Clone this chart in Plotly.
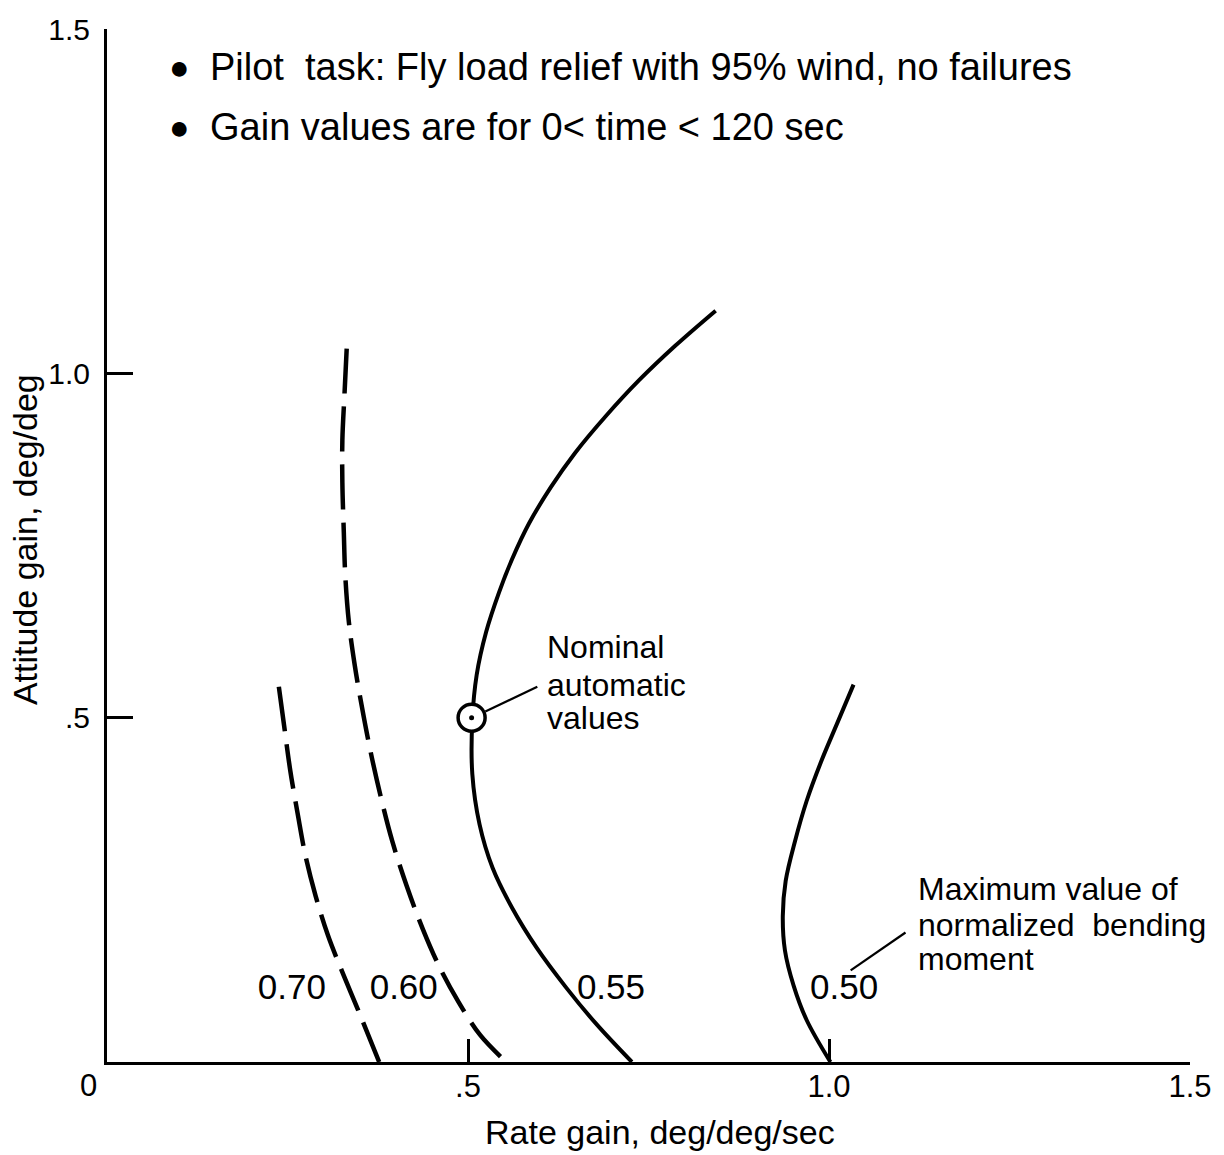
import plotly.graph_objects as go

# Contours of maximum normalized bending moment (rate gain, attitude gain)
rate_055 = [0.843, 0.787, 0.737, 0.691, 0.648, 0.615, 0.585, 0.561, 0.543, 0.525, 0.512, 0.506,
            0.506, 0.516, 0.534, 0.561, 0.595, 0.636, 0.677, 0.727]
att_055 = [1.091, 1.040, 0.990, 0.938, 0.884, 0.835, 0.783, 0.730, 0.682, 0.624, 0.562, 0.497,
           0.418, 0.345, 0.282, 0.224, 0.166, 0.108, 0.056, 0.0]

rate_050 = [1.034, 1.011, 0.989, 0.969, 0.953, 0.940, 0.936, 0.939, 0.951, 0.969, 1.002]
att_050 = [0.548, 0.491, 0.436, 0.379, 0.321, 0.263, 0.212, 0.162, 0.111, 0.061, 0.0]

rate_060 = [0.332, 0.329, 0.326, 0.326, 0.328, 0.330, 0.335, 0.343, 0.353, 0.365, 0.379, 0.395,
            0.415, 0.437, 0.460, 0.487, 0.517, 0.553]
att_060 = [1.036, 0.971, 0.903, 0.841, 0.769, 0.707, 0.639, 0.577, 0.516, 0.451, 0.386, 0.321,
           0.256, 0.194, 0.139, 0.087, 0.039, 0.0]

rate_070 = [0.238, 0.246, 0.254, 0.264, 0.275, 0.289, 0.306, 0.325, 0.348, 0.377]
att_070 = [0.545, 0.483, 0.422, 0.361, 0.299, 0.241, 0.184, 0.133, 0.075, 0.0]

# Nominal automatic gains
nominal_rate = [0.505]
nominal_att = [0.5]

# Contour labels
contour_labels = ["0.70", "0.60", "0.55", "0.50"]
contour_label_x = [0.256, 0.411, 0.698, 1.021]
contour_label_y = [0.104, 0.104, 0.104, 0.104]

# Leader lines for notes
nominal_leader_x = [0.524, 0.596]
nominal_leader_y = [0.509, 0.545]
moment_leader_x = [1.030, 1.106]
moment_leader_y = [0.133, 0.188]

# Notes (one entry per printed line)
header_lines = ["Pilot  task: Fly load relief with 95% wind, no failures",
                "Gain values are for 0< time < 120 sec"]
header_y = [1.445, 1.358]
nominal_lines = ["Nominal", "automatic", "values"]
nominal_lines_y = [0.603, 0.548, 0.499]
moment_lines = ["Maximum value of", "normalized  bending", "moment"]
moment_lines_y = [0.251, 0.199, 0.150]

x_tickvals = [0.5, 1.0, 1.5]
x_ticktext = [".5", "1.0", "1.5"]
y_tickvals = [0.5, 1.0, 1.5]
y_ticktext = [".5", "1.0", "1.5"]

FONT = "Liberation Sans"
INK = "black"

fig = go.Figure()

solid = dict(color=INK, width=4)
dashed = dict(color=INK, width=4.5, dash="45px,13px")

fig.add_trace(go.Scatter(x=rate_070, y=att_070, mode="lines", line=dashed, line_shape="spline"))
fig.add_trace(go.Scatter(x=rate_060, y=att_060, mode="lines", line=dashed, line_shape="spline"))
fig.add_trace(go.Scatter(x=rate_055, y=att_055, mode="lines", line=solid, line_shape="spline"))
fig.add_trace(go.Scatter(x=rate_050, y=att_050, mode="lines", line=solid, line_shape="spline"))

# Leader lines
fig.add_trace(go.Scatter(x=nominal_leader_x, y=nominal_leader_y, mode="lines",
                         line=dict(color=INK, width=2.2)))
fig.add_trace(go.Scatter(x=moment_leader_x, y=moment_leader_y, mode="lines",
                         line=dict(color=INK, width=2.2)))

# Nominal point: open circle with centre dot
fig.add_trace(go.Scatter(x=nominal_rate, y=nominal_att, mode="markers",
                         marker=dict(symbol="circle", size=27, color="white",
                                     line=dict(color=INK, width=3.5))))
fig.add_trace(go.Scatter(x=nominal_rate, y=nominal_att, mode="markers",
                         marker=dict(symbol="circle", size=5, color=INK)))

# Contour value labels
fig.add_trace(go.Scatter(x=contour_label_x, y=contour_label_y, mode="text",
                         text=contour_labels, textposition="middle center",
                         textfont=dict(family=FONT, size=35, color=INK)))


def note(x, y, text, size):
    fig.add_annotation(xref="x", yref="y", x=x, y=y, text=text, xanchor="left",
                       yanchor="middle", align="left", showarrow=False,
                       font=dict(family=FONT, size=size, color=INK))


for txt, yy in zip(header_lines, header_y):
    fig.add_annotation(xref="x", yref="y", x=0.101, y=yy, text="●", xanchor="center",
                       yanchor="middle", showarrow=False,
                       font=dict(family=FONT, size=34, color=INK))
    note(0.140, yy, txt, 38)
for txt, yy in zip(nominal_lines, nominal_lines_y):
    note(0.606, yy, txt, 32)
for txt, yy in zip(moment_lines, moment_lines_y):
    note(1.120, yy, txt, 32)

# Origin label and axis titles
fig.add_annotation(xref="x", yref="y", x=0, y=0, text="0", showarrow=False,
                   xshift=-19, yshift=-23, font=dict(family=FONT, size=31, color=INK))
fig.add_annotation(xref="paper", yref="paper", x=0.511, y=-0.068, text="Rate gain, deg/deg/sec",
                   showarrow=False, xanchor="center", yanchor="middle",
                   font=dict(family=FONT, size=34, color=INK))
fig.add_annotation(xref="paper", yref="paper", x=-0.075, y=0.506, text="Attitude gain, deg/deg",
                   showarrow=False, xanchor="center", yanchor="middle", textangle=-90,
                   font=dict(family=FONT, size=34, color=INK))

fig.update_layout(
    width=1224, height=1155,
    margin=dict(l=107, r=32, t=24, b=93),
    paper_bgcolor="white", plot_bgcolor="white",
    showlegend=False,
    font=dict(family=FONT, size=31, color=INK),
)
fig.update_xaxes(range=[0, 1.5], showgrid=False, zeroline=False, showline=True,
                 linecolor=INK, linewidth=2.5, ticks="inside", ticklen=23, tickwidth=2.5,
                 tickcolor=INK, tickvals=x_tickvals, ticktext=x_ticktext,
                 ticklabelstandoff=-5, tickfont=dict(family=FONT, size=31, color=INK))
fig.update_yaxes(range=[0, 1.5], showgrid=False, zeroline=False, showline=True,
                 linecolor=INK, linewidth=3, ticks="inside", ticklen=26, tickwidth=2.5,
                 tickcolor=INK, tickvals=y_tickvals, ticktext=y_ticktext,
                 ticklabelstandoff=8, tickfont=dict(family=FONT, size=30, color=INK))

fig.write_html("out.html")
